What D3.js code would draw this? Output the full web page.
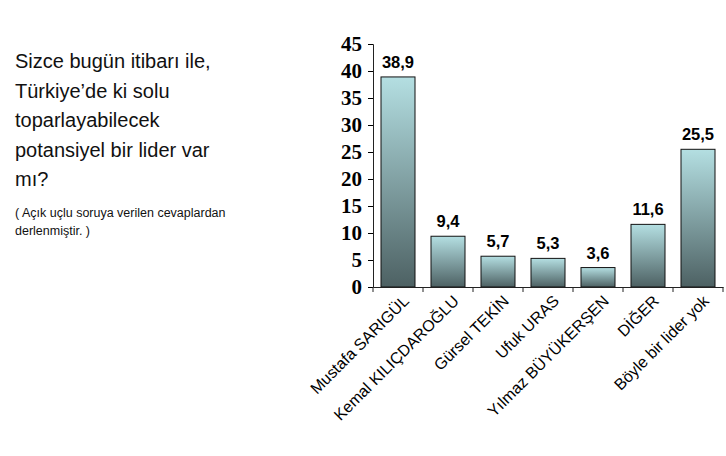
<!DOCTYPE html>
<html><head><meta charset="utf-8">
<script src="https://cdn.jsdelivr.net/npm/d3@7"></script>
<style>body{margin:0;background:#fff}</style></head>
<body><svg id="c" width="726" height="456"></svg>
<script>
const categories=["Mustafa SARIGÜL","Kemal KILIÇDAROĞLU","Gürsel TEKİN","Ufuk URAS","Yılmaz BÜYÜKERŞEN","DİĞER","Böyle bir lider yok"];
const values=[38.9,9.4,5.7,5.3,3.6,11.6,25.5];
const yTicks=[0,5,10,15,20,25,30,35,40,45];
const questionLines=["Sizce bugün itibarı ile,","Türkiye’de ki solu","toparlayabilecek","potansiyel bir lider var","mı?"];
const noteLines=["( Açık uçlu soruya verilen cevaplardan","derlenmiştir. )"];

const svg=d3.select("#c");
const x=d3.scaleBand().domain(categories).range([373,723]).paddingInner(0.32).paddingOuter(0.16);
const y=d3.scaleLinear().domain([0,45]).range([287,44]);

const g=svg.append("defs").append("linearGradient").attr("id","gr").attr("x1",0).attr("x2",0).attr("y1",0).attr("y2",1);
g.append("stop").attr("offset","0%").attr("stop-color","#b4dfe2");
g.append("stop").attr("offset","100%").attr("stop-color","#4d6163");

svg.append("g").selectAll("rect").data(values).join("rect")
 .attr("x",(d,i)=>x(categories[i])).attr("y",d=>y(d))
 .attr("width",x.bandwidth()).attr("height",d=>y(0)-y(d))
 .attr("fill","url(#gr)").attr("stroke","#111").attr("stroke-width",1);

svg.append("g").selectAll("text").data(values).join("text")
 .attr("x",(d,i)=>x(categories[i])+x.bandwidth()/2).attr("y",d=>y(d)-9)
 .attr("text-anchor","middle").attr("font-family","Liberation Sans, Arial").attr("font-weight","bold").attr("font-size",16.5)
 .text(d=>d.toFixed(1).replace(".",","));

const ya=svg.append("g").attr("transform","translate(373,0)")
 .call(d3.axisLeft(y).tickValues(yTicks).tickSize(5).tickPadding(6));
ya.select(".domain").attr("stroke","#222");
ya.selectAll("text").attr("font-family","Liberation Serif, Times New Roman").attr("font-weight","bold").attr("font-size",21).attr("fill","#000");

const xa=svg.append("g").attr("transform","translate(0,287)")
 .call(d3.axisBottom(x).tickSize(0).tickFormat(""));
xa.select(".domain").attr("stroke","#222");
const step=x.step();
xa.selectAll(".bt").data(d3.range(categories.length+1)).join("line").attr("class","bt")
 .attr("x1",i=>373+i*step).attr("x2",i=>373+i*step).attr("y1",0).attr("y2",5).attr("stroke","#222");

svg.append("g").selectAll("text").data(categories).join("text")
 .attr("transform",d=>`translate(${x(d)+x.bandwidth()/2+12},${302}) rotate(-45)`)
 .attr("text-anchor","end").attr("font-family","Liberation Sans, Arial").attr("font-size",16)
 .text(d=>d);

svg.append("g").selectAll("text").data(questionLines).join("text")
 .attr("x",15).attr("y",(d,i)=>68+i*29.5).attr("font-family","Liberation Sans, Arial").attr("font-size",20).attr("fill","#111").text(d=>d);
svg.append("g").selectAll("text").data(noteLines).join("text")
 .attr("x",15).attr("y",(d,i)=>217+i*18).attr("font-family","Liberation Sans, Arial").attr("font-size",12.5).attr("fill","#111").text(d=>d);
</script></body></html>
